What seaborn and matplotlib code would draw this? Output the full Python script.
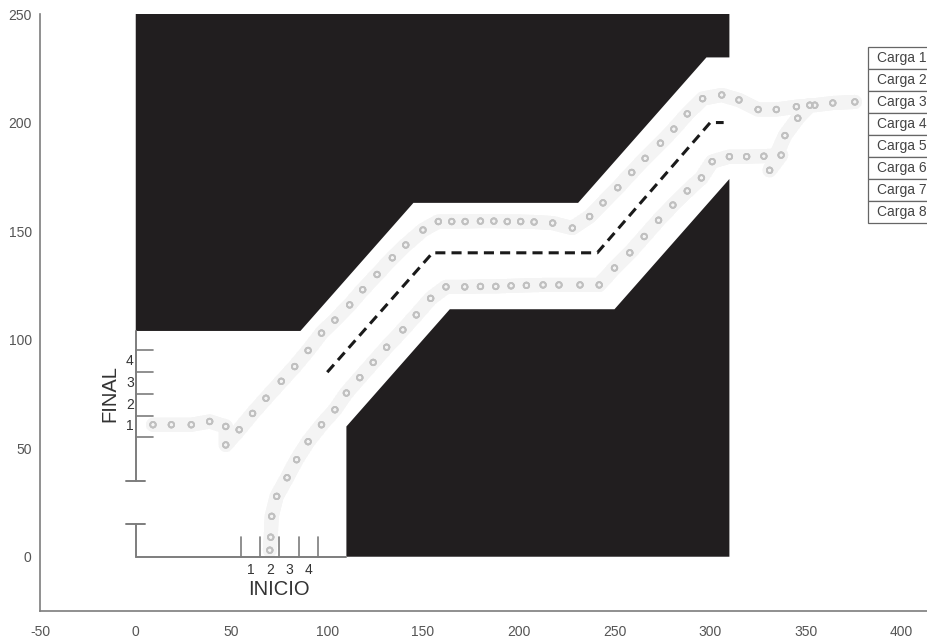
import numpy as np
import pandas as pd
import matplotlib
matplotlib.use("Agg")
import matplotlib.pyplot as plt
import seaborn as sns

# ---------------- data ----------------
# obstacle polygons (black regions)
top_x = [0, 0, 86, 145, 231, 298, 310, 310]
top_y = [250, 104, 104, 163, 163, 230, 230, 250]
bot_x = [110, 110, 164, 250, 310, 310]
bot_y = [0, 60, 114, 114, 174, 0]

# reference (center) path, dashed
ref_x = [100, 155, 241, 300, 307]
ref_y = [85, 140, 140, 200, 200]

# lower trajectory (from INICIO to exit)
low_x = [70, 70.5, 71, 73.6, 79, 84, 90, 97, 104, 110, 117, 124, 131, 139.5, 146.5, 154,
         162, 171.8, 180, 188, 196, 204, 212.7, 221, 232, 242, 250, 258, 265.5, 273,
         280.5, 288, 295.4, 301, 310, 319, 328, 337, 331, 339, 345.7, 352]
low_y = [3, 9, 18.6, 27.8, 36.4, 44.7, 53, 60.8, 67.7, 75.4, 82.5, 89.5, 96.5, 104.5, 111.4, 119,
         124.3, 124.3, 124.5, 124.5, 124.8, 125, 125.2, 125.2, 125.2, 125.2, 133, 140, 147.5, 155,
         162, 168.5, 174.5, 182, 184.3, 184.3, 184.5, 185, 178, 194, 202, 208]

# upper trajectory (from entry to FINAL)
up_x = [9, 18.6, 29, 38.6, 47, 47, 54, 61, 68, 76, 83, 90, 97, 104, 111.7, 118.5, 126, 134,
        141, 150, 158, 165, 172, 180, 187, 194, 201, 208, 217.7, 228, 237, 244, 251.7, 259,
        266, 274, 281, 288, 296, 306, 315, 325, 334.5, 345, 354.6, 364, 375.5]
up_y = [60.8, 60.8, 60.8, 62.3, 60, 51.5, 58.5, 66, 73, 80.8, 87.6, 95, 103, 109, 116, 123, 130, 137.7,
        143.6, 150.5, 154.4, 154.4, 154.4, 154.6, 154.6, 154.4, 154.4, 154.2, 153.7, 151.4, 156.7, 163, 170, 177,
        183.5, 190.5, 197, 204, 211, 212.7, 210.4, 206, 206, 207.3, 208, 209, 209.5]

cargas = [f"Carga {i}" for i in range(1, 9)]

# INICIO / FINAL gauges
inicio_ticks = [55, 65, 75, 85, 95]
final_ticks = [55, 65, 75, 85, 95]
slot_labels = ["1", "2", "3", "4"]
inicio_label_x = [60, 70, 80, 90]
final_label_y = [60, 70, 80, 90]

# ---------------- build table ----------------
rows = []
for i, c in enumerate(cargas):
    xs, ys = (low_x, low_y) if i % 2 == 0 else (up_x, up_y)
    for k, (xx, yy) in enumerate(zip(xs, ys)):
        rows.append({"carga": c, "x": xx, "y": yy, "k": k})
df = pd.DataFrame(rows)
ref_df = pd.DataFrame({"x": ref_x, "y": ref_y})

# ---------------- figure ----------------
sns.set_theme(style="white")
plt.rcParams["font.family"] = ["Liberation Sans", "DejaVu Sans"]
plt.rcParams["axes.unicode_minus"] = False

fig = plt.figure(figsize=(9.27, 6.39), dpi=100)
ax_w = 957.5 / 927
ax = fig.add_axes([40 / 927, 28 / 639, ax_w, 597 / 639])
ax.set_xlim(-50, 450)
ax.set_ylim(-25, 250)

blk = "#211e1f"
ax.fill(top_x, top_y, color=blk, lw=0, zorder=1)
ax.fill(bot_x, bot_y, color=blk, lw=0, zorder=1)

# light halo around trajectories
grey_pal = {c: "#f4f4f4" for c in cargas}
sns.lineplot(data=df, x="x", y="y", hue="carga", units="carga", estimator=None, sort=False,
             palette=grey_pal, lw=10, legend=False, ax=ax, zorder=2, alpha=0.7)
mk_pal = {c: "#c4c4c4" for c in cargas}
sns.scatterplot(data=df, x="x", y="y", hue="carga", palette=mk_pal, marker="o",
                s=16, linewidth=1.2, legend=False, ax=ax, zorder=3, alpha=0.8)
for coll in ax.collections[-1:]:
    coll.set_facecolor("none")
    coll.set_edgecolor("#c0c0c0")

# dashed reference line
sns.lineplot(data=ref_df, x="x", y="y", sort=False, color="#1a1a1a", lw=2.2, ax=ax, zorder=4)
ax.lines[-1].set_dashes((3.3, 2.0))

gcol = "#7d7d7d"
# INICIO gauge
ax.plot([0, 110], [0, 0], color=gcol, lw=1.4, zorder=2)
for t in inicio_ticks:
    ax.plot([t, t], [0, 9], color=gcol, lw=1.2, zorder=2)
for xl, s in zip(inicio_label_x, slot_labels):
    ax.text(xl, -3, s, ha="center", va="top", fontsize=10, color="#333333")
ax.text(75, -10.5, "INICIO", ha="center", va="top", fontsize=14.5, color="#333333")

# FINAL gauge
ax.plot([0, 0], [0, 15], color=gcol, lw=1.4, zorder=2)
ax.plot([-5, 5], [15, 15], color=gcol, lw=1.4, zorder=2)
ax.plot([-5, 5], [35, 35], color=gcol, lw=1.4, zorder=2)
ax.plot([0, 0], [35, 104], color=gcol, lw=1.4, zorder=2)
for t in final_ticks:
    ax.plot([0, 9], [t, t], color=gcol, lw=1.2, zorder=2)
for yl, s in zip(final_label_y, slot_labels):
    ax.text(-1, yl, s, ha="right", va="center", fontsize=10, color="#333333")
ax.text(-13.5, 75, "FINAL", ha="center", va="center", rotation=90, fontsize=14.5, color="#333333")

# axes style
for side in ["top", "right"]:
    ax.spines[side].set_visible(False)
for side in ["left", "bottom"]:
    ax.spines[side].set_color(gcol)
    ax.spines[side].set_linewidth(1.2)
ax.set_xticks([-50, 0, 50, 100, 150, 200, 250, 300, 350, 400])
ax.set_yticks([0, 50, 100, 150, 200, 250])
ax.tick_params(direction="in", length=6.5, width=1.0, color=gcol, labelcolor="#555555",
               labelsize=10)
ax.tick_params(axis="x", pad=10)
ax.tick_params(axis="y", pad=6)
ax.set_xlabel("")
ax.set_ylabel("")

# legend box (table style)
tb = ax.table(cellText=[[c] for c in cargas], cellLoc="left",
              bbox=[(868 - 40) / 957.5, (611 - 223) / 597, 0.1, (223 - 47) / 597])
tb.auto_set_font_size(False)
tb.set_fontsize(10)
for (r, c), cell in tb.get_celld().items():
    cell.set_edgecolor("#666666")
    cell.set_linewidth(0.9)
    cell.set_facecolor("white")
    cell.get_text().set_color("#444444")
    cell.PAD = 0.09

fig.savefig("out.png", dpi=100)
